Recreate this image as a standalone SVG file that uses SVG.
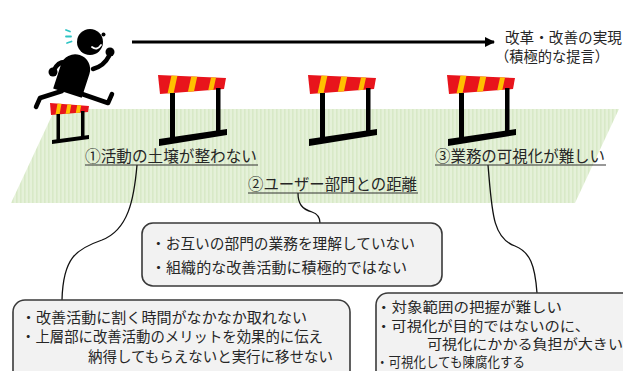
<svg xmlns="http://www.w3.org/2000/svg" width="623" height="371" viewBox="0 0 623 371">
  <defs>
    <style>
      .jp { font-family: "Noto Sans CJK JP", "Noto Sans", sans-serif; fill: #262626; }
      .lbl { font-size: 15.5px; }
      .txt { font-size: 14.5px; }
      .sm { font-size: 13.8px; }
      .uline { stroke: #333; stroke-width: 1.2; }
      .box { fill: #f2f2f2; stroke: #3a3a3a; stroke-width: 1.6; }
      .conn { fill: none; stroke: #111; stroke-width: 1.3; }
      .limb { fill: none; stroke: #000; stroke-width: 4.5; stroke-linecap: round; stroke-linejoin: round; }
    </style>
    <pattern id="field" width="4" height="4" patternUnits="userSpaceOnUse">
      <rect width="4" height="4" fill="#e5f1d9"/>
      <rect width="1.6" height="4" fill="#d8e9c7"/>
    </pattern>
    <marker id="head" viewBox="0 0 10 10" refX="9" refY="5" markerWidth="3.2" markerHeight="3.2" orient="auto" markerUnits="strokeWidth">
      <path d="M0,0 L10,5 L0,10 Z" fill="#000"/>
    </marker>
    <clipPath id="barClip">
      <polygon points="158,75 226,78 224,89 160,94"/>
    </clipPath>
    <clipPath id="smallBarClip">
      <polygon points="50,103 89,106 88,112 51,115"/>
    </clipPath>
    <!-- large hurdle drawn at its first position; copies are shifted -->
    <g id="hurdle">
      <polygon points="158,75 226,78 224,89 160,94" fill="#e8141c"/>
      <g clip-path="url(#barClip)" fill="#ffc000">
        <polygon points="172,73 178,73 173,96 167,96"/>
        <polygon points="192,73 198,73 193,96 187,96"/>
        <polygon points="212,73 217,73 212,96 207,96"/>
      </g>
      <rect x="170" y="93" width="5" height="48" fill="#000"/>
      <rect x="216" y="88" width="4.5" height="45" fill="#000"/>
      <polygon points="159,139 227,129 227,135 159,146" fill="#000"/>
    </g>
  </defs>

  <!-- track -->
  <polygon points="55,109 619,109 575,203 11,203" fill="url(#field)"/>

  <!-- goal arrow -->
  <g id="goal">
    <line x1="132" y1="42" x2="494" y2="42" stroke="#000" stroke-width="3.2" marker-end="url(#head)"/>
    <text class="jp txt" x="505" y="43" textLength="117" lengthAdjust="spacingAndGlyphs">改革・改善の実現</text>
    <text class="jp txt" x="495" y="62" textLength="114" lengthAdjust="spacingAndGlyphs">（積極的な提言）</text>
  </g>

  <!-- runner -->
  <g id="runner">
    <g stroke="#2ec4c4" stroke-width="1.8" stroke-linecap="round">
      <line x1="66" y1="30" x2="70" y2="31.5"/>
      <line x1="66" y1="36.5" x2="71" y2="36.5"/>
      <line x1="67" y1="43" x2="71.5" y2="41.5"/>
    </g>
    <circle cx="90" cy="42" r="13" fill="#000"/>
    <circle cx="103.5" cy="34.5" r="2" fill="#000"/>
    <path d="M92,47 Q97,51 101,45" fill="none" stroke="#fff" stroke-width="1.8" stroke-linecap="round"/>
    <path d="M-15,18 L-15,-7 A15,15 0 0 1 15,-7 L15,18 Z" transform="translate(73,76) rotate(18)" fill="#000"/>
    <path class="limb" d="M71,63 Q59,59 54,70"/>
    <circle cx="53" cy="72" r="4.5" fill="#000"/>
    <path class="limb" d="M93,69 Q104,66 109,56"/>
    <circle cx="110" cy="52" r="4.5" fill="#000"/>
    <path class="limb" d="M62,91 L40,98 L36,107"/>
    <path class="limb" d="M82,94 L108,103 L112,94"/>
  </g>

  <!-- hurdles -->
  <g id="hurdle-small">
    <polygon points="50,103 89,106 88,112 51,115" fill="#e8141c"/>
    <g clip-path="url(#smallBarClip)" fill="#ffc000">
      <polygon points="58,101 62,101 59,117 55,117"/>
      <polygon points="68,101 72,101 69,117 65,117"/>
      <polygon points="78,101 82,101 79,117 75,117"/>
    </g>
    <rect x="56.5" y="114" width="3.5" height="28" fill="#000"/>
    <rect x="81" y="111" width="3.5" height="27" fill="#000"/>
    <polygon points="52,140 89,135 89,139 52,144" fill="#000"/>
  </g>
  <use id="hurdle-1" href="#hurdle"/>
  <use id="hurdle-2" href="#hurdle" transform="translate(150,0)"/>
  <use id="hurdle-3" href="#hurdle" transform="translate(289,0)"/>

  <!-- connectors -->
  <g id="connectors">
    <path class="conn" d="M137,165 C134,200 128,230 102,240 C76,249 63,258 62,300"/>
    <path class="conn" d="M298,193 C298,204 302,209 312,212 C318,214 320,218 320,223"/>
    <path class="conn" d="M488,165 C492,210 492,238 515,246 C530,252 535,265 537,293"/>
  </g>

  <!-- obstacle labels -->
  <g id="label-1">
    <text class="jp lbl" x="85" y="162" textLength="172" lengthAdjust="spacingAndGlyphs">①活動の土壌が整わない</text>
    <line class="uline" x1="85" y1="165" x2="258" y2="165"/>
  </g>
  <g id="label-2">
    <text class="jp lbl" x="248" y="190" textLength="169" lengthAdjust="spacingAndGlyphs">②ユーザー部門との距離</text>
    <line class="uline" x1="248" y1="193" x2="418" y2="193"/>
  </g>
  <g id="label-3">
    <text class="jp lbl" x="435" y="162" textLength="170" lengthAdjust="spacingAndGlyphs">③業務の可視化が難しい</text>
    <line class="uline" x1="435" y1="165" x2="606" y2="165"/>
  </g>

  <!-- detail boxes -->
  <g id="box-2">
    <rect class="box" x="142" y="223" width="300" height="63" rx="11"/>
    <text class="jp txt" x="151" y="249" textLength="264" lengthAdjust="spacingAndGlyphs">・お互いの部門の業務を理解していない</text>
    <text class="jp txt" x="151" y="273" textLength="256" lengthAdjust="spacingAndGlyphs">・組織的な改善活動に積極的ではない</text>
  </g>
  <g id="box-1">
    <rect class="box" x="13" y="300" width="337" height="90" rx="12"/>
    <text class="jp txt" x="21" y="323" textLength="286" lengthAdjust="spacingAndGlyphs">・改善活動に割く時間がなかなか取れない</text>
    <text class="jp txt" x="21" y="342" textLength="302" lengthAdjust="spacingAndGlyphs">・上層部に改善活動のメリットを効果的に伝え</text>
    <text class="jp txt" x="88" y="362" textLength="245" lengthAdjust="spacingAndGlyphs">納得してもらえないと実行に移せない</text>
  </g>
  <g id="box-3">
    <rect class="box" x="376" y="293" width="270" height="95" rx="12"/>
    <text class="jp sm" x="376" y="312" textLength="186" lengthAdjust="spacingAndGlyphs">・対象範囲の把握が難しい</text>
    <text class="jp sm" x="376" y="330.5" textLength="214" lengthAdjust="spacingAndGlyphs">・可視化が目的ではないのに、</text>
    <text class="jp sm" x="427" y="349" textLength="196" lengthAdjust="spacingAndGlyphs">可視化にかかる負担が大きい</text>
    <text class="jp sm" x="376" y="367" textLength="149" lengthAdjust="spacingAndGlyphs">・可視化しても陳腐化する</text>
  </g>
</svg>
